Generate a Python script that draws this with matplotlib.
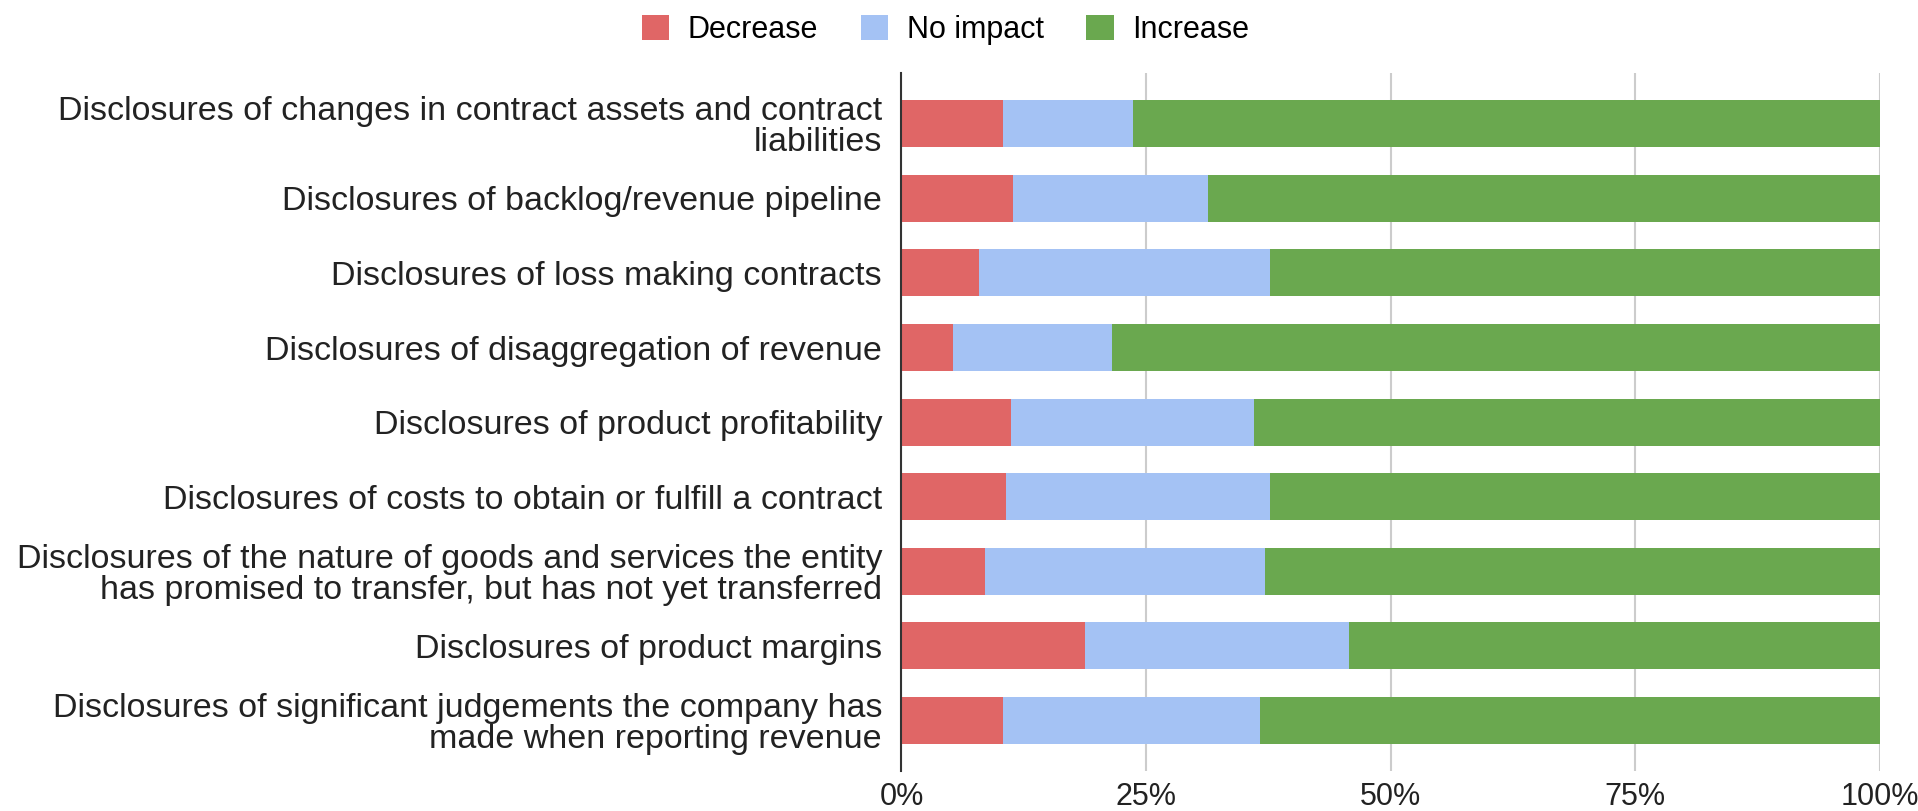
import numpy as np
import matplotlib.pyplot as plt
from matplotlib.ticker import PercentFormatter

plt.rcParams['font.family'] = ['Liberation Sans', 'DejaVu Sans']

# Data (shares, top to bottom) #
categories = [
    "Disclosures of changes in contract assets and contract\nliabilities",
    "Disclosures of backlog/revenue pipeline",
    "Disclosures of loss making contracts",
    "Disclosures of disaggregation of revenue",
    "Disclosures of product profitability",
    "Disclosures of costs to obtain or fulfill a contract",
    "Disclosures of the nature of goods and services the entity\nhas promised to transfer, but has not yet transferred",
    "Disclosures of product margins",
    "Disclosures of significant judgements the company has\nmade when reporting revenue",
]
decrease = [10.4, 11.4, 7.9, 5.3, 11.2, 10.7, 8.5, 18.8, 10.4]
no_impact = [13.3, 19.9, 29.8, 16.2, 24.8, 27.0, 28.7, 27.0, 26.3]
increase = [100 - d - n for d, n in zip(decrease, no_impact)]
series_names = ["Decrease", "No impact", "Increase"]
colors = ["#e06666", "#a4c2f4", "#6aa84f"]
# -------- #

fig = plt.figure(figsize=(19.18, 8.11), dpi=100)
ax = fig.add_axes([0.470, 0.049, 0.510, 0.861])

y = np.arange(len(categories))
left = np.zeros(len(categories))
for vals, name, c in zip([decrease, no_impact, increase], series_names, colors):
    ax.barh(y, vals, left=left, height=0.63, color=c, label=name, zorder=3)
    left += np.array(vals)

ax.set_ylim(len(categories) - 0.5 + 0.18, -0.5 - 0.18)
ax.set_xlim(0, 100)
ax.set_yticks(y)
ax.set_yticklabels(categories, fontsize=24.5, color="#222222", linespacing=1.0)
ax.set_xticks([0, 25, 50, 75, 100])
ax.xaxis.set_major_formatter(PercentFormatter(decimals=0))
ax.tick_params(axis='x', length=0, labelsize=22, colors="#222222", pad=8)
ax.tick_params(axis='y', length=0, pad=14)

ax.grid(axis='x', color="#cccccc", linewidth=1.5, zorder=0)
for s in ['top', 'right', 'bottom']:
    ax.spines[s].set_visible(False)
ax.spines['left'].set_color("#333333")
ax.spines['left'].set_linewidth(1.5)
ax.spines['left'].set_zorder(4)

fig.legend(loc='upper center', bbox_to_anchor=(0.493, 1.016), ncol=3, frameon=False,
           fontsize=22, handlelength=0.9, handleheight=0.9, handletextpad=0.6,
           columnspacing=1.4)

fig.savefig("out.png", dpi=100)
